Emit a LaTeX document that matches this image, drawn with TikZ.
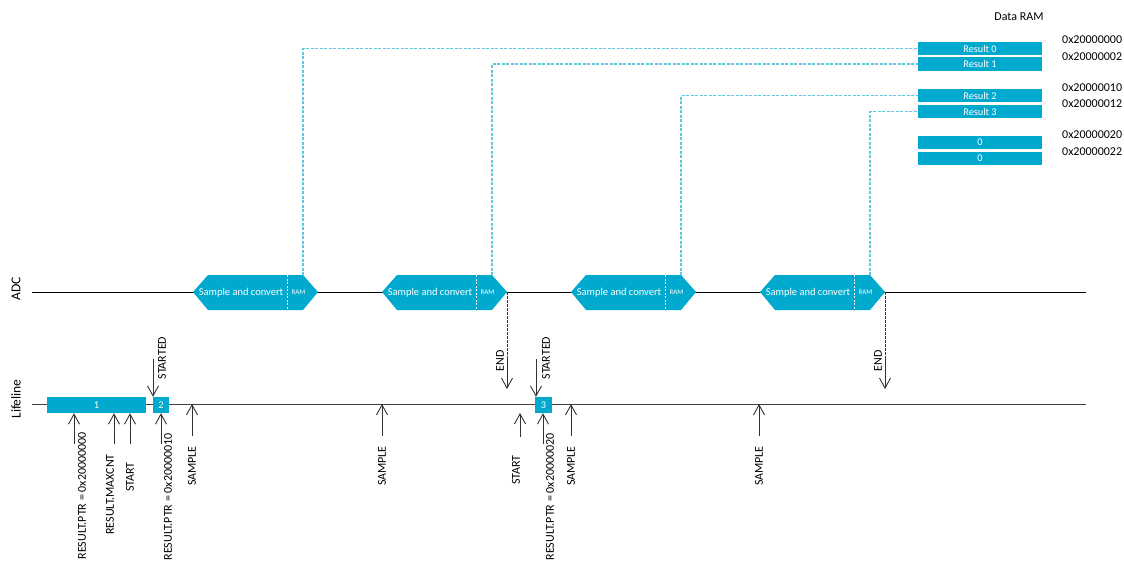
\documentclass[tikz,border=0pt]{standalone}
\usepackage{fontspec}
\setmainfont{Carlito}
\usetikzlibrary{arrows.meta}
\definecolor{nblue}{HTML}{00A9CE}
\definecolor{nlight}{HTML}{5CC8E2}
\definecolor{ngray}{HTML}{333333}
\begin{document}
\begin{tikzpicture}[x=1pt,y=-1pt,
  lbl/.style={font=\fontsize{12}{14}\selectfont, text=black, inner sep=0pt},
  vlbl/.style={lbl, rotate=90},
  axlbl/.style={font=\fontsize{13.5}{15}\selectfont, text=black, inner sep=0pt, rotate=90},
  ramtxt/.style={font=\fontsize{10.3}{12}\selectfont, text=white},
  rambox/.style={fill=nblue, minimum width=124pt, minimum height=13.5pt, inner sep=0pt, ramtxt},
  lbox/.style={fill=nblue, minimum height=16pt, inner sep=0pt, ramtxt},
  hexfill/.style={fill=nblue},
  link/.style={nlight, dashed, dash pattern=on 3pt off 1.5pt, line width=1.2pt},
  arr/.style={ngray, line width=0.9pt, -{Straight Barb[length=10pt,width=11pt]}},
  endline/.style={ngray, line width=0.9pt, dashed, dash pattern=on 2.5pt off 1.5pt},
  axis/.style={black, line width=0.9pt}]
\useasboundingbox (0,0) rectangle (1124,562);

% timelines
\coordinate (adcL) at (32,292);
\coordinate (adcR) at (1086,292);
\coordinate (lifL) at (32,404);
\coordinate (lifR) at (1086,404);
\draw[axis] (adcL) -- (adcR);
\draw[axis, black!75] (lifL) -- (lifR);
\node[axlbl] (adclbl) at (16,289) {ADC};
\node[axlbl] (liflbl) at (16,399) {Lifeline};

% Data RAM
\node[lbl] (dram) at (1019,17) {Data RAM};
\node[rambox] (r0) at (980,48.5) {Result 0};
\node[rambox] (r1) at (980,64) {Result 1};
\node[rambox] (r2) at (980,95.5) {Result 2};
\node[rambox] (r3) at (980,111.5) {Result 3};
\node[rambox] (r4) at (980,142.5) {0};
\node[rambox] (r5) at (980,158.5) {0};
\node[lbl, anchor=west] (ad0) at (1062,40) {0x20000000};
\node[lbl, anchor=west] (ad1) at (1062,57) {0x20000002};
\node[lbl, anchor=west] (ad2) at (1062,87.5) {0x20000010};
\node[lbl, anchor=west] (ad3) at (1062,103.5) {0x20000012};
\node[lbl, anchor=west] (ad4) at (1062,135) {0x20000020};
\node[lbl, anchor=west] (ad5) at (1062,151.5) {0x20000022};

% hexagons
\foreach \i/\x in {1/193,2/382,3/571,4/760}{
  \fill[hexfill] (\x,292) -- (\x+15,275) -- (\x+110,275) -- (\x+125,292) -- (\x+110,310) -- (\x+15,310) -- cycle;
  \draw[white, line width=0.8pt, dash pattern=on 2pt off 1.5pt] (\x+94,275) -- (\x+94,310);
  \node[font=\fontsize{10.5}{12}\selectfont, text=white, inner sep=0pt] (sc\i) at (\x+48,293) {Sample and convert};
  \node[font=\fontsize{7}{8}\selectfont, text=white, inner sep=0pt] (ram\i) at (\x+105.5,292) {RAM};
  \coordinate (ht\i) at (\x+110,275);
  \coordinate (hr\i) at (\x+125,292);
}
\draw[link] (ht1) |- (r0.west);
\draw[link] (ht2) |- (r1.west);
\draw[link] (ht3) |- (r2.west);
\draw[link] (ht4) |- (r3.west);

% END events
\coordinate (e1m) at (507,358);
\coordinate (e1b) at (507,389);
\draw[endline] (hr2) -- (e1m);
\draw[arr] (e1m) -- (e1b);
\node[vlbl] (endl1) at (500,361) {END};
\coordinate (e2m) at (885,358);
\coordinate (e2b) at (885,389);
\draw[endline] (hr4) -- (e2m);
\draw[arr] (e2m) -- (e2b);
\node[vlbl] (endl2) at (878,361) {END};

% lifeline boxes
\node[lbox, minimum width=99pt] (b1) at (96.5,405) {1};
\node[lbox, minimum width=16pt] (b2) at (161,405) {2};
\node[lbox, minimum width=17pt] (b3) at (543.5,405) {3};

% STARTED
\coordinate (s1) at (153,359);
\draw[arr] (s1) -- (s1 |- b2.north);
\node[vlbl] (st1) at (162,358) {STARTED};
\coordinate (s2) at (536,359);
\draw[arr] (s2) -- (s2 |- b3.north);
\node[vlbl] (st2) at (546,358) {STARTED};

% tasks below
\coordinate (p1) at (74,444);
\draw[arr] (p1) -- (p1 |- b1.south);
\node[vlbl, anchor=east] (p1l) at (82,432) {RESULT.PTR = 0x20000000};
\coordinate (m1) at (114,444);
\draw[arr] (m1) -- (m1 |- b1.south);
\node[vlbl, anchor=east] (m1l) at (110,454) {RESULT.MAXCNT};
\coordinate (t1) at (130,444);
\draw[arr] (t1) -- (t1 |- b1.south);
\node[vlbl, anchor=east] (t1l) at (130,462) {START};
\coordinate (p2) at (161,444);
\draw[arr] (p2) -- (p2 |- b2.south);
\node[vlbl, anchor=east] (p2l) at (168,433) {RESULT.PTR = 0x20000010};
\coordinate (sa1) at (192,436);
\draw[arr] (sa1) -- (sa1 |- lifL);
\node[vlbl, anchor=east] (sa1l) at (192,446) {SAMPLE};
\coordinate (sa2) at (382,436);
\draw[arr] (sa2) -- (sa2 |- lifL);
\node[vlbl, anchor=east] (sa2l) at (382,446) {SAMPLE};
\coordinate (t2) at (520,437);
\coordinate (t2h) at (520,413);
\draw[arr] (t2) -- (t2h);
\node[vlbl, anchor=east] (t2l) at (516,455) {START};
\coordinate (p3) at (543,444);
\draw[arr] (p3) -- (p3 |- b3.south);
\node[vlbl, anchor=east] (p3l) at (550,433) {RESULT.PTR = 0x20000020};
\coordinate (sa3) at (571,436);
\draw[arr] (sa3) -- (sa3 |- lifL);
\node[vlbl, anchor=east] (sa3l) at (571,446) {SAMPLE};
\coordinate (sa4) at (759,436);
\draw[arr] (sa4) -- (sa4 |- lifL);
\node[vlbl, anchor=east] (sa4l) at (759,446) {SAMPLE};
\end{tikzpicture}
\end{document}
